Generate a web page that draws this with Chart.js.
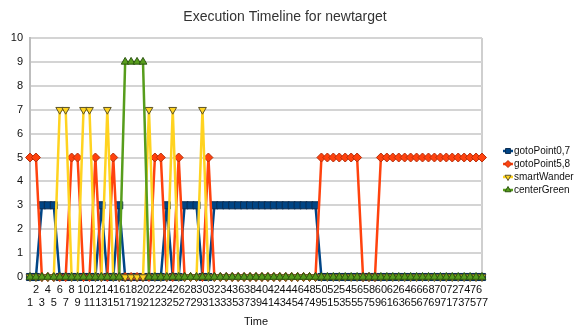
<!DOCTYPE html>
<html>
<head>
<meta charset="utf-8">
<script src="https://cdn.jsdelivr.net/npm/chart.js@4.4.1/dist/chart.umd.min.js"></script>
<style>
  html, body { margin: 0; padding: 0; background: #fff; }
</style>
</head>
<body>
<canvas id="chart" width="578" height="329"></canvas>
<script>
// time steps 1..77
const timeLabels = [
  '1','2','3','4','5','6','7','8','9','10',
  '11','12','13','14','15','16','17','18','19','20',
  '21','22','23','24','25','26','27','28','29','30',
  '31','32','33','34','35','36','37','38','39','40',
  '41','42','43','44','45','46','47','48','49','50',
  '51','52','53','54','55','56','57','58','59','60',
  '61','62','63','64','65','66','67','68','69','70',
  '71','72','73','74','75','76','77'
]

const gotoPoint07 = [
  0,0,3,3,3,0,0,0,0,0,
  0,0,3,0,0,3,0,0,0,0,
  0,0,0,3,0,0,3,3,3,0,
  0,3,3,3,3,3,3,3,3,3,
  3,3,3,3,3,3,3,3,3,0,
  0,0,0,0,0,0,0,0,0,0,
  0,0,0,0,0,0,0,0,0,0,
  0,0,0,0,0,0,0
]

const gotoPoint58 = [
  5,5,0,0,0,0,0,5,5,0,
  0,5,0,0,5,0,0,0,0,0,
  0,5,5,0,0,5,0,0,0,0,
  5,0,0,0,0,0,0,0,0,0,
  0,0,0,0,0,0,0,0,0,5,
  5,5,5,5,5,5,0,0,0,5,
  5,5,5,5,5,5,5,5,5,5,
  5,5,5,5,5,5,5
]

const smartWander = [
  0,0,0,0,0,7,7,0,0,7,
  7,0,0,7,0,0,0,0,0,0,
  7,0,0,0,7,0,0,0,0,7,
  0,0,0,0,0,0,0,0,0,0,
  0,0,0,0,0,0,0,0,0,0,
  0,0,0,0,0,0,0,0,0,0,
  0,0,0,0,0,0,0,0,0,0,
  0,0,0,0,0,0,0
]

const centerGreen = [
  0,0,0,0,0,0,0,0,0,0,
  0,0,0,0,0,0,9,9,9,9,
  0,0,0,0,0,0,0,0,0,0,
  0,0,0,0,0,0,0,0,0,0,
  0,0,0,0,0,0,0,0,0,0,
  0,0,0,0,0,0,0,0,0,0,
  0,0,0,0,0,0,0,0,0,0,
  0,0,0,0,0,0,0
]

const chartTitle = 'Execution Timeline for newtarget'
const FONT = "'Liberation Sans', Arial, sans-serif"

function series(label, data, color, edge, style, rotation, radius, order) {
  return {
    label,
    data,
    borderColor: color,
    backgroundColor: color,
    borderWidth: 2.5,
    pointStyle: style,
    pointRotation: rotation,
    pointRadius: radius,
    pointBackgroundColor: color,
    pointBorderColor: edge,
    pointBorderWidth: 1,
    tension: 0,
    clip: false,
    order
  }
}

// title centred on the whole canvas, legend to the right of the plot
const extras = {
  id: 'extras',
  afterDraw(chart) {
    const ctx = chart.ctx
    ctx.save()
    ctx.fillStyle = '#333'
    ctx.font = '14px ' + FONT
    ctx.textAlign = 'center'
    ctx.textBaseline = 'middle'
    ctx.fillText(chartTitle, 285, 17)

    const x0 = 504
    let y = 151
    chart.data.datasets.forEach(ds => {
      ctx.strokeStyle = ds.borderColor
      ctx.lineWidth = 2.5
      ctx.beginPath()
      ctx.moveTo(x0 - 1, y)
      ctx.lineTo(x0 + 9, y)
      ctx.stroke()
      ctx.fillStyle = ds.pointBackgroundColor
      ctx.strokeStyle = ds.pointBorderColor
      ctx.lineWidth = 1
      Chart.helpers.drawPoint(ctx, {
        pointStyle: ds.pointStyle,
        rotation: ds.pointRotation,
        radius: 3.5,
        borderWidth: 1
      }, x0 + 4, y)
      ctx.fillStyle = '#111'
      ctx.font = '10px ' + FONT
      ctx.textBaseline = 'middle'
      ctx.textAlign = 'left'
      ctx.fillText(ds.label, x0 + 10, y)
      y += 13
    })
    ctx.restore()
  }
}

new Chart(document.getElementById('chart'), {
  type: 'line',
  data: {
    labels: timeLabels,
    datasets: [
      series('gotoPoint0,7', gotoPoint07, '#004586', '#0b2d52', 'rect', 0, 5, 3),
      series('gotoPoint5,8', gotoPoint58, '#ff420e', '#b8300c', 'rectRot', 0, 4.5, 2),
      series('smartWander', smartWander, '#ffd320', '#5c5326', 'triangle', 180, 4.5, 1),
      series('centerGreen', centerGreen, '#579d1c', '#2c5510', 'triangle', 0, 4.5, 0)
    ]
  },
  options: {
    responsive: false,
    animation: false,
    layout: { padding: { left: 0, right: 96, top: 38, bottom: 0 } },
    plugins: {
      legend: { display: false },
      tooltip: { enabled: false },
      title: { display: false }
    },
    scales: {
      x: {
        offset: false,
        grid: {
          color: c => c.index === timeLabels.length - 1 ? '#cfcfcf' : 'rgba(0,0,0,0)',
          lineWidth: 2,
          drawTicks: false
        },
        border: { display: false },
        ticks: {
          autoSkip: false,
          maxRotation: 0,
          padding: 6,
          color: '#111',
          font: { family: FONT, size: 11 },
          callback(v, i) {
            const t = this.getLabelForValue(v)
            return i % 2 === 0 ? ['', t] : t
          }
        },
        title: {
          display: true,
          text: 'Time',
          color: '#111',
          font: { family: FONT, size: 11 },
          padding: { top: 2, bottom: 0 }
        },
        afterFit(s) { s.height = 52 }
      },
      y: {
        min: 0,
        max: 10,
        ticks: {
          stepSize: 1,
          padding: 7,
          color: '#111',
          font: { family: FONT, size: 11 }
        },
        grid: { color: '#d4d4d4', lineWidth: 2, drawTicks: false },
        border: { color: '#bdbdbd', width: 2 },
        afterFit(s) { s.width = 30 }
      }
    }
  },
  plugins: [extras]
})
</script>
</body>
</html>
